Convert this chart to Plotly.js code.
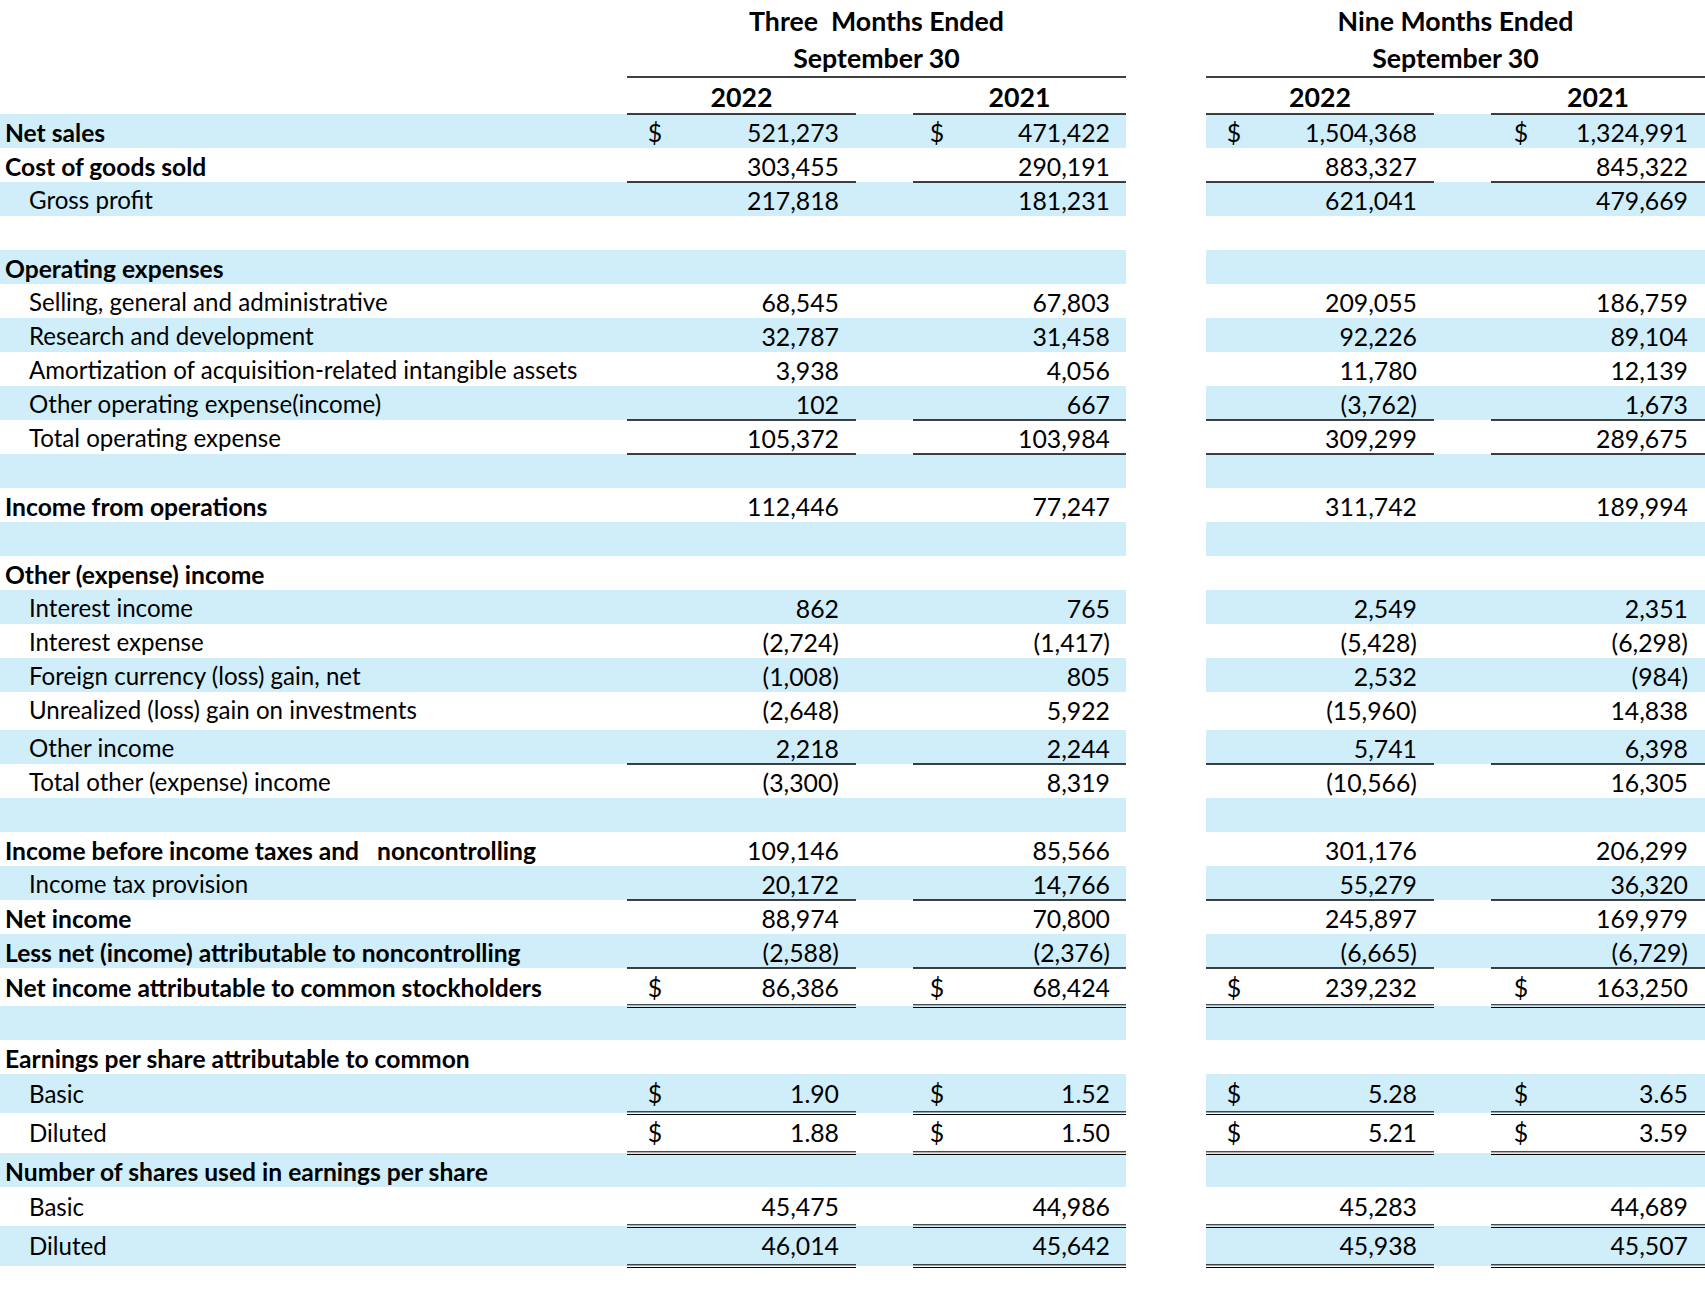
<!DOCTYPE html>
<html><head><meta charset="utf-8">
<script src="https://cdn.plot.ly/plotly-3.0.1.min.js"></script>
<style>html,body{margin:0;padding:0;background:#fff;overflow:hidden}</style>
</head><body><div id="chart" style="width:1705px;height:1307px"></div>
<script>
// ---------------- DATA ----------------
const rowLabels = [
  'Net sales', 'Cost of goods sold', 'Gross profit', '',
  'Operating expenses', 'Selling, general and administrative', 'Research and development',
  'Amortization of acquisition-related intangible assets', 'Other operating expense(income)',
  'Total operating expense', '',
  'Income from operations', '',
  'Other (expense) income', 'Interest income', 'Interest expense', 'Foreign currency (loss) gain, net',
  'Unrealized (loss) gain on investments', 'Other income', 'Total other (expense) income', '',
  'Income before income taxes and\u00A0\u00A0 noncontrolling', 'Income tax provision', 'Net income',
  'Less net (income) attributable to noncontrolling', 'Net income attributable to common stockholders', '',
  'Earnings per share attributable to common', 'Basic', 'Diluted',
  'Number of shares used in earnings per share', 'Basic', 'Diluted'
];
const rowKinds = [
  'section', 'section', 'item', 'blank',
  'section', 'item', 'item', 'item', 'item', 'item', 'blank',
  'section', 'blank',
  'section', 'item', 'item', 'item', 'item', 'item', 'item', 'blank',
  'section', 'item', 'section', 'section', 'section', 'blank',
  'section', 'item', 'item',
  'section', 'item', 'item'
];
const periodTitles = ['Three\u00A0 Months Ended', 'Nine Months Ended'];
const periodSubtitles = ['September 30', 'September 30'];
const yearLabels = ['2022', '2021', '2022', '2021'];

const threeMonths2022 = [521273, 303455, 217818, null, null, 68545, 32787, 3938, 102, 105372, null, 112446, null,
  null, 862, -2724, -1008, -2648, 2218, -3300, null, 109146, 20172, 88974, -2588, 86386, null,
  null, 1.90, 1.88, null, 45475, 46014];
const threeMonths2021 = [471422, 290191, 181231, null, null, 67803, 31458, 4056, 667, 103984, null, 77247, null,
  null, 765, -1417, 805, 5922, 2244, 8319, null, 85566, 14766, 70800, -2376, 68424, null,
  null, 1.52, 1.50, null, 44986, 45642];
const nineMonths2022 = [1504368, 883327, 621041, null, null, 209055, 92226, 11780, -3762, 309299, null, 311742, null,
  null, 2549, -5428, 2532, -15960, 5741, -10566, null, 301176, 55279, 245897, -6665, 239232, null,
  null, 5.28, 5.21, null, 45283, 45938];
const nineMonths2021 = [1324991, 845322, 479669, null, null, 186759, 89104, 12139, 1673, 289675, null, 189994, null,
  null, 2351, -6298, -984, 14838, 6398, 16305, null, 206299, 36320, 169979, -6729, 163250, null,
  null, 3.65, 3.59, null, 44689, 45507];
const currencyRows = [0, 25, 28, 29];
const singleRuleRows = [1, 8, 9, 18, 22, 24];
const doubleRuleRows = [25, 28, 29, 31, 32];

// ---------------- LAYOUT / STYLE ----------------
const W = 1705, H = 1307;
const FONT = 'Lato, "Open Sans", "DejaVu Sans", sans-serif';
const headerBottom = 114;
const rowHeights = rowLabels.map((_, i) => ({17: 38, 25: 38, 28: 39, 29: 40, 31: 39, 32: 40}[i] || 34));
const labelX = {section: 5, item: 29};
const colRight = [839, 1110, 1417, 1688];
const colDollar = [655, 937, 1234, 1521];
const colSpan = [[627, 856], [913, 1126], [1206, 1434], [1491, 1705]];
const groupSpan = [[627, 1126], [1206, 1705]];
const bandSpan = [[0, 1126], [1206, 1705]];
const bandColor = '#CFEEFA';
const ink = '#000000';

function fitSize(text, weight, target) {
  const c = document.createElement('canvas').getContext('2d');
  c.font = weight + ' 100px ' + FONT;
  return 100 * target / c.measureText(text).width;
}
const labelSize = fitSize('Amortization of acquisition-related intangible assets', 'normal', 549);
const boldSize = fitSize('Net income attributable to common stockholders', 'bold', 537);
const numSize = fitSize('1,504,368', 'normal', 112);
const headSize = fitSize('Nine Months Ended', 'bold', 236);

const tops = [];
let acc = headerBottom;
rowHeights.forEach(h => { tops.push(acc); acc += h; });
const bottoms = tops.map((t, i) => t + rowHeights[i]);
const capCenter = tops.map((t, i) => t + (doubleRuleRows.includes(i) ? 21.5 : 20));
const yOf = (c, fs) => c + 0.1 * fs - 1;

function fmt(v) {
  if (v === null || v === undefined) return '';
  const a = Math.abs(v);
  const s = Number.isInteger(v) ? a.toLocaleString('en-US') : a.toFixed(2);
  return v < 0 ? '(' + s + ')' : s;
}

const columns = [threeMonths2022, threeMonths2021, nineMonths2022, nineMonths2021];
const traces = [];

// labels
traces.push({
  type: 'scatter', mode: 'text', cliponaxis: false, hoverinfo: 'skip', showlegend: false,
  x: rowKinds.map(k => labelX[k === 'item' ? 'item' : 'section']),
  y: rowLabels.map((_, i) => yOf(capCenter[i], rowKinds[i] === 'section' ? boldSize : labelSize)),
  text: rowLabels.map((l, i) => l === '' ? '' : (rowKinds[i] === 'section' ? '<b>' + l + '</b>' : l)),
  textposition: 'middle right',
  textfont: {family: FONT, color: ink, size: rowKinds.map(k => k === 'section' ? boldSize : labelSize)}
});

// numbers and currency signs
columns.forEach((col, c) => {
  traces.push({
    type: 'scatter', mode: 'text', cliponaxis: false, hoverinfo: 'skip', showlegend: false,
    x: col.map(() => colRight[c]),
    y: col.map((_, i) => yOf(capCenter[i], numSize)),
    text: col.map(fmt),
    textposition: 'middle left',
    textfont: {family: FONT, color: ink, size: numSize}
  });
  traces.push({
    type: 'scatter', mode: 'text', cliponaxis: false, hoverinfo: 'skip', showlegend: false,
    x: currencyRows.map(() => colDollar[c]),
    y: currencyRows.map(i => yOf(capCenter[i], numSize)),
    text: currencyRows.map(() => '$'),
    textposition: 'middle center',
    textfont: {family: FONT, color: ink, size: numSize}
  });
});

// headers
traces.push({
  type: 'scatter', mode: 'text', cliponaxis: false, hoverinfo: 'skip', showlegend: false,
  x: groupSpan.map(s => (s[0] + s[1]) / 2).concat(groupSpan.map(s => (s[0] + s[1]) / 2)),
  y: [yOf(22.5, headSize), yOf(22.5, headSize), yOf(60, headSize), yOf(60, headSize)],
  text: periodTitles.concat(periodSubtitles).map(t => '<b>' + t + '</b>'),
  textposition: 'middle center',
  textfont: {family: FONT, color: ink, size: headSize}
});
traces.push({
  type: 'scatter', mode: 'text', cliponaxis: false, hoverinfo: 'skip', showlegend: false,
  x: colSpan.map(s => (s[0] + s[1]) / 2),
  y: yearLabels.map(() => yOf(99, headSize)),
  text: yearLabels.map(t => '<b>' + t + '</b>'),
  textposition: 'middle center',
  textfont: {family: FONT, color: ink, size: headSize}
});

// shapes
const shapes = [];
rowLabels.forEach((_, i) => {
  if (i % 2 === 0) {
    bandSpan.forEach(s => shapes.push({type: 'rect', xref: 'x', yref: 'y', layer: 'below',
      x0: s[0], x1: s[1], y0: tops[i], y1: bottoms[i], fillcolor: bandColor, line: {width: 0}}));
  }
});
function hline(x0, x1, y, w) {
  shapes.push({type: 'line', xref: 'x', yref: 'y', x0: x0, x1: x1, y0: y, y1: y, line: {color: ink, width: w}});
}
groupSpan.forEach(s => hline(s[0], s[1], 77, 1.3));
colSpan.forEach(s => hline(s[0], s[1], headerBottom, 1.3));
singleRuleRows.forEach(i => colSpan.forEach(s => hline(s[0], s[1], bottoms[i], 1.3)));
doubleRuleRows.forEach(i => colSpan.forEach(s => {
  hline(s[0], s[1], bottoms[i] - 1.2, 1);
  hline(s[0], s[1], bottoms[i] + 1.5, 1);
}));

const layout = {
  width: W, height: H,
  margin: {l: 0, r: 0, t: 0, b: 0, pad: 0},
  paper_bgcolor: '#ffffff', plot_bgcolor: '#ffffff',
  xaxis: {range: [0, W], autorange: false, visible: false, fixedrange: true},
  yaxis: {range: [H, 0], autorange: false, visible: false, fixedrange: true},
  showlegend: false, hovermode: false,
  shapes: shapes
};
Plotly.newPlot('chart', traces, layout, {staticPlot: true, displayModeBar: false});
</script>
</body></html>
